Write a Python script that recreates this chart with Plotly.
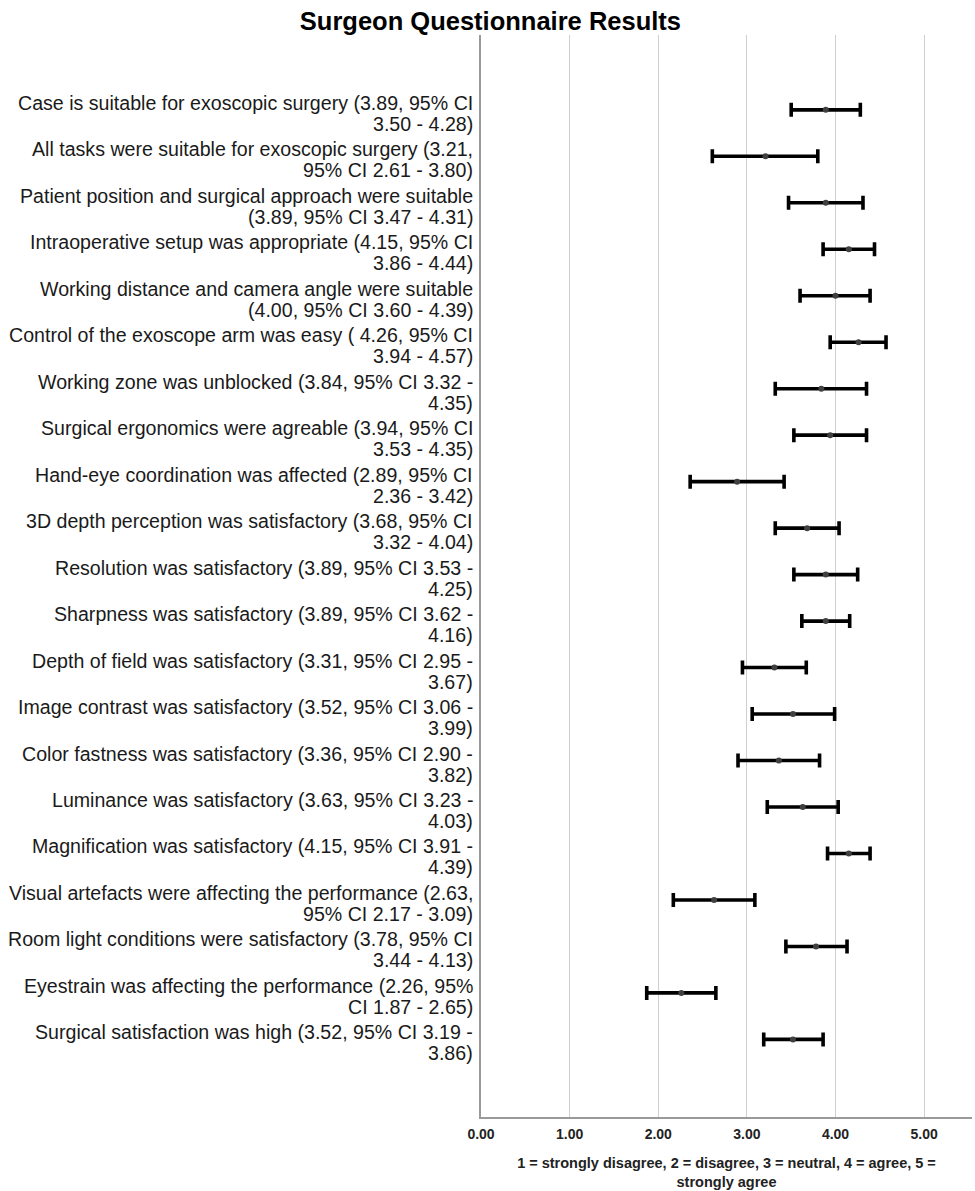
import plotly.graph_objects as go

labels = [
    "Case is suitable for exoscopic surgery (3.89, 95% CI<br>3.50 - 4.28)",
    "All tasks were suitable for exoscopic surgery (3.21,<br>95% CI 2.61 - 3.80)",
    "Patient position and surgical approach were suitable<br>(3.89, 95% CI 3.47 - 4.31)",
    "Intraoperative setup was appropriate (4.15, 95% CI<br>3.86 - 4.44)",
    "Working distance and camera angle were suitable<br>(4.00, 95% CI 3.60 - 4.39)",
    "Control of the exoscope arm was easy ( 4.26, 95% CI<br>3.94 - 4.57)",
    "Working zone was unblocked (3.84, 95% CI 3.32 -<br>4.35)",
    "Surgical ergonomics were agreable (3.94, 95% CI<br>3.53 - 4.35)",
    "Hand-eye coordination was affected (2.89, 95% CI<br>2.36 - 3.42)",
    "3D depth perception was satisfactory (3.68, 95% CI<br>3.32 - 4.04)",
    "Resolution was satisfactory (3.89, 95% CI 3.53 -<br>4.25)",
    "Sharpness was satisfactory (3.89, 95% CI 3.62 -<br>4.16)",
    "Depth of field was satisfactory (3.31, 95% CI 2.95 -<br>3.67)",
    "Image contrast was satisfactory (3.52, 95% CI 3.06 -<br>3.99)",
    "Color fastness was satisfactory (3.36, 95% CI 2.90 -<br>3.82)",
    "Luminance was satisfactory (3.63, 95% CI 3.23 -<br>4.03)",
    "Magnification was satisfactory (4.15, 95% CI 3.91 -<br>4.39)",
    "Visual artefacts were affecting the performance (2.63,<br>95% CI 2.17 - 3.09)",
    "Room light conditions were satisfactory (3.78, 95% CI<br>3.44 - 4.13)",
    "Eyestrain was affecting the performance (2.26, 95%<br>CI 1.87 - 2.65)",
    "Surgical satisfaction was high (3.52, 95% CI 3.19 -<br>3.86)",
]
means = [3.89, 3.21, 3.89, 4.15, 4.00, 4.26, 3.84, 3.94, 2.89, 3.68, 3.89, 3.89,
         3.31, 3.52, 3.36, 3.63, 4.15, 2.63, 3.78, 2.26, 3.52]
lower = [3.50, 2.61, 3.47, 3.86, 3.60, 3.94, 3.32, 3.53, 2.36, 3.32, 3.53, 3.62,
         2.95, 3.06, 2.90, 3.23, 3.91, 2.17, 3.44, 1.87, 3.19]
upper = [4.28, 3.80, 4.31, 4.44, 4.39, 4.57, 4.35, 4.35, 3.42, 4.04, 4.25, 4.16,
         3.67, 3.99, 3.82, 4.03, 4.39, 3.09, 4.13, 2.65, 3.86]
x_ticks = [0, 1, 2, 3, 4, 5]
x_ticktext = ["0.00", "1.00", "2.00", "3.00", "4.00", "5.00"]

ypos = list(range(len(labels)))
err_plus = [u - m for u, m in zip(upper, means)]
err_minus = [m - l for m, l in zip(means, lower)]

FONT = "Liberation Sans, Arial, sans-serif"

fig = go.Figure()
fig.add_trace(go.Scatter(
    x=means, y=ypos, mode="markers",
    marker=dict(size=6, color="#404040"),
    error_x=dict(type="data", symmetric=False, array=err_plus, arrayminus=err_minus,
                 color="black", thickness=3.6, width=7),
    showlegend=False,
))

# category labels, two lines each, right-aligned against the y axis
for yi, lab in zip(ypos, labels):
    line1, line2 = lab.split("<br>")
    for txt, shift in ((line1, 7), (line2, -14)):
        fig.add_annotation(text=txt, xref="paper", x=0, yref="y", y=yi,
                           xanchor="right", yanchor="middle", xshift=-6, yshift=shift,
                           showarrow=False, align="right",
                           font=dict(size=19.6, family=FONT, color="#1a1a1a"))

fig.update_layout(
    width=975, height=1191,
    paper_bgcolor="white", plot_bgcolor="white",
    margin=dict(l=481, r=3, t=35, b=71),
    font=dict(family=FONT, color="black"),
    title=dict(text="<b>Surgeon Questionnaire Results</b>", x=0.503, xanchor="center",
               xref="container", y=0.982, yanchor="middle",
               font=dict(size=25.5, family=FONT, color="black")),
    xaxis=dict(range=[0, 5.54], tickvals=x_ticks, ticktext=x_ticktext,
               showgrid=True, gridcolor="#cfcfcf", gridwidth=1,
               showline=True, linecolor="#9a9a9a", linewidth=1.5,
               zeroline=False, ticks="", ticklabelstandoff=3,
               tickfont=dict(size=14, family=FONT, color="#222222", weight="bold"),
               title=dict(text="<b>1 = strongly disagree, 2 = disagree, 3 = neutral, 4 = agree, 5 =<br>strongly agree</b>",
                          font=dict(size=14.5, family=FONT, color="#222222"), standoff=17)),
    yaxis=dict(range=[21.67, -1.61], tickvals=ypos, showticklabels=False,
               showgrid=False, showline=True, linecolor="#9a9a9a", linewidth=1.5,
               zeroline=False, ticks=""),
)

fig.write_html("out.html", config={"displayModeBar": False},
               post_script="document.body.style.margin='0';")
